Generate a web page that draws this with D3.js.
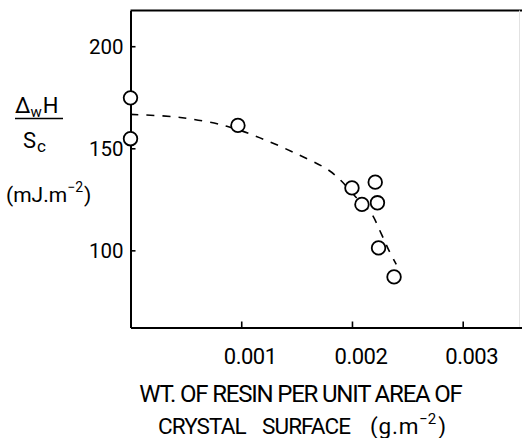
<!DOCTYPE html>
<html><head><meta charset="utf-8">
<script src="https://cdn.jsdelivr.net/npm/d3@7"></script>
<style>html,body{margin:0;padding:0;background:#fff;} svg{display:block;}</style>
</head><body>
<script>
// ---- data ----
const resinWt  = [0, 0, 0.00097, 0.00200, 0.00221, 0.00209, 0.00223, 0.00224, 0.00238];
const enthalpy = [174.7, 154.7, 161.2, 130.6, 133.4, 122.5, 123.3, 101.2, 87.0];
const curveX = [0, 0.00045, 0.00087, 0.00117, 0.00148, 0.00178, 0.00190, 0.00203, 0.00217, 0.00226, 0.00233, 0.00240];
const curveY = [166.6, 165.1, 160.8, 155.1, 147.8, 139.6, 134.2, 126.4, 118.5, 108.7, 100.4, 93.1];
const xTicks = [0.001, 0.002, 0.003];
const xTickLabels = ["0.001", "0.002", "0.003"];
const yTicks = [100, 150, 200];
const yTickLabels = ["100", "150", "200"];
const xTitle1 = "WT. OF RESIN PER UNIT AREA OF";
const xTitle2 = ["CRYSTAL", "SURFACE", "(g.m", "\u22122", ")"];
const yTitle = ["\u0394", "w", "H", "S", "c", "(mJ.m", "\u22122", ")"];

const W = 522, H = 438;
const FONT = "Roboto, 'DejaVu Sans', sans-serif";
const svg = d3.select("body").append("svg").attr("width", W).attr("height", H)
  .attr("font-family", FONT);

const x = d3.scaleLinear().domain([0, 0.00354]).range([130.5, 522.5]);
const y = d3.scaleLinear().domain([62.2, 217.5]).range([327.5, 10.5]);

// frame: top line and faint right border
svg.append("line").attr("x1", x(0)).attr("x2", W).attr("y1", y(217.5)).attr("y2", y(217.5))
  .attr("stroke", "#000").attr("stroke-width", 2);
svg.append("line").attr("x1", 519.5).attr("x2", 519.5).attr("y1", y(217.5)).attr("y2", y(62.2))
  .attr("stroke", "#e2e2e2").attr("stroke-width", 1);

// bottom axis (lines from d3 axis, labels placed from the same scale)
const gx = svg.append("g").attr("transform", `translate(0,${y(62.2)})`)
  .call(d3.axisBottom(x).tickValues(xTicks).tickSizeInner(-6).tickSizeOuter(0).tickFormat(""));
gx.select(".domain").attr("stroke", "#000").attr("stroke-width", 2);
gx.selectAll(".tick line").attr("stroke", "#000").attr("stroke-width", 1.6);
gx.selectAll(".tick text").remove();
svg.selectAll("text.xt").data(xTicks).enter().append("text").attr("class", "xt")
  .attr("x", d => x(d) + 9).attr("y", 363.5).attr("text-anchor", "middle")
  .attr("font-size", 22).attr("letter-spacing", -0.5).attr("fill", "#000")
  .text((d, i) => xTickLabels[i]);

// left axis
const gy = svg.append("g").attr("transform", `translate(${x(0)},0)`)
  .call(d3.axisLeft(y).tickValues(yTicks).tickSizeInner(-5).tickSizeOuter(0).tickFormat(""));
gy.select(".domain").attr("stroke", "#000").attr("stroke-width", 2);
gy.selectAll(".tick line").attr("stroke", "#000").attr("stroke-width", 1.6);
gy.selectAll(".tick text").remove();
svg.selectAll("text.yt").data(yTicks).enter().append("text").attr("class", "yt")
  .attr("x", x(0) - 7).attr("y", d => y(d) + 7.5).attr("text-anchor", "end")
  .attr("font-size", 20.5).attr("fill", "#000")
  .text((d, i) => yTickLabels[i]);

// dashed fitted curve
const line = d3.line().x(d => x(d[0])).y(d => y(d[1])).curve(d3.curveCatmullRom.alpha(0.5));
svg.append("path").datum(curveX.map((v, i) => [v, curveY[i]]))
  .attr("d", line).attr("fill", "none").attr("stroke", "#000")
  .attr("stroke-width", 1.6).attr("stroke-dasharray", "8,8");

// points
svg.selectAll("circle.pt").data(resinWt.map((v, i) => [v, enthalpy[i]])).enter()
  .append("circle").attr("class", "pt")
  .attr("cx", d => x(d[0])).attr("cy", d => y(d[1])).attr("r", 6.8)
  .attr("fill", "#fff").attr("stroke", "#000").attr("stroke-width", 1.8);

// x-axis title
svg.append("text").attr("x", 300.5).attr("y", 401.5).attr("text-anchor", "middle")
  .attr("font-size", 24).attr("letter-spacing", -1.2).attr("fill", "#000")
  .text(xTitle1);
const t2 = svg.append("text").attr("y", 434).attr("font-size", 22.5).attr("fill", "#000");
t2.append("tspan").attr("x", 158).attr("letter-spacing", -0.9).text(xTitle2[0]);
t2.append("tspan").attr("x", 262).attr("letter-spacing", -0.9).text(xTitle2[1]);
t2.append("tspan").attr("x", 370).attr("letter-spacing", 0.8).text(xTitle2[2]);
t2.append("tspan").attr("dy", -10).attr("font-size", 15).text(xTitle2[3]);
t2.append("tspan").attr("dy", 10).attr("dx", 2).text(xTitle2[4]);

// y-axis title (fraction)
const n1 = svg.append("text").attr("x", 15).attr("y", 113).attr("font-size", 22).attr("fill", "#000");
n1.append("tspan").text(yTitle[0]);
n1.append("tspan").attr("dy", 4).attr("font-size", 15).text(yTitle[1]);
n1.append("tspan").attr("dy", -4).attr("dx", 1).text(yTitle[2]);
svg.append("line").attr("x1", 15).attr("x2", 63).attr("y1", 118.5).attr("y2", 118.5)
  .attr("stroke", "#000").attr("stroke-width", 1.6);
const d1 = svg.append("text").attr("x", 23).attr("y", 148).attr("font-size", 22).attr("fill", "#000");
d1.append("tspan").text(yTitle[3]);
d1.append("tspan").attr("dy", 4).attr("dx", 1).attr("font-size", 17).text(yTitle[4]);
const u1 = svg.append("text").attr("x", 6).attr("y", 202).attr("font-size", 21).attr("fill", "#000");
u1.append("tspan").text(yTitle[5]);
u1.append("tspan").attr("dy", -10).attr("font-size", 14).text(yTitle[6]);
u1.append("tspan").attr("dy", 10).attr("dx", 1).text(yTitle[7]);
</script>
</body></html>
